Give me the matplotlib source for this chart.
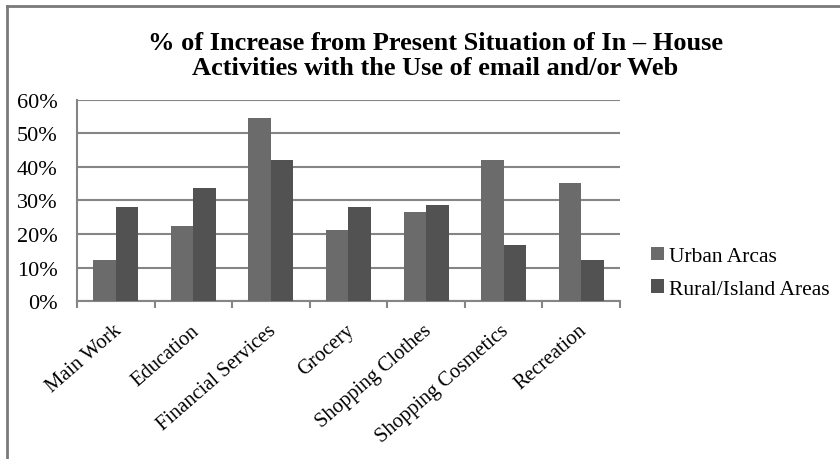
import matplotlib
matplotlib.use('Agg')
import matplotlib.pyplot as plt
import numpy as np
from matplotlib.lines import Line2D

plt.rcParams['font.family'] = ['Liberation Serif', 'DejaVu Serif']

categories = ['Main Work', 'Education', 'Financial Services', 'Grocery',
              'Shopping Clothes', 'Shopping Cosmetics', 'Recreation']
urban = [12.4, 22.4, 54.5, 21.2, 26.7, 42.0, 35.3]
rural = [28.2, 33.6, 42.0, 28.0, 28.8, 16.8, 12.4]
series_names = ['Urban Arcas', 'Rural/Island Areas']
y_ticks = [0, 10, 20, 30, 40, 50, 60]

fig = plt.figure(figsize=(8.4, 4.6), dpi=100)
ax = fig.add_axes([0.0917, 0.343, 0.6463, 0.438])

x = np.arange(len(categories))
w = 0.29
ax.bar(x - w / 2, urban, w, color='#6b6b6b', label=series_names[0], zorder=3)
ax.bar(x + w / 2, rural, w, color='#525252', label=series_names[1], zorder=3)

ax.set_xlim(-0.5, len(categories) - 0.5)
ax.set_ylim(0, 60)
ax.set_yticks(y_ticks)
ax.set_yticklabels([f'{v}%' for v in y_ticks], fontsize=16)
ax.yaxis.grid(True, color='#858585', linewidth=1.5, zorder=0)
ax.tick_params(axis='y', length=0, pad=14)

# category ticks at the boundaries between groups
ax.set_xticks(np.arange(-0.5, len(categories)), minor=False)
ax.set_xticklabels([])
ax.tick_params(axis='x', which='major', length=5, width=1.5, color='#858585', direction='out')
ax.set_xticks(x - 0.04, minor=True)
ax.set_xticklabels(categories, minor=True, rotation=41, ha='right',
                   rotation_mode='anchor', fontsize=14.8)
ax.tick_params(axis='x', which='minor', length=0, pad=14)

for s in ['top', 'right']:
    ax.spines[s].set_visible(False)
ax.spines['left'].set_color('#858585')
ax.spines['left'].set_linewidth(1.5)
ax.spines['bottom'].set_color('#858585')
ax.spines['bottom'].set_linewidth(1.5)

fig.text(0.518, 0.878, '% of Increase from Present Situation of In \u2013 House\n'
         'Activities with the Use of email and/or Web',
         ha='center', va='center', fontsize=19, fontweight='bold', linespacing=1.1)

fig.legend(loc='center left', bbox_to_anchor=(0.752, 0.405), frameon=False,
           fontsize=15.5, handlelength=0.6, handleheight=0.6, handletextpad=0.25,
           labelspacing=0.6)

# chart border (top and left edges visible in the reference)
fig.add_artist(Line2D([0.008, 0.008], [0, 0.984], transform=fig.transFigure,
                      color='#7a7a7a', linewidth=2))
fig.add_artist(Line2D([0.008, 1.0], [0.984, 0.984], transform=fig.transFigure,
                      color='#7a7a7a', linewidth=2))

fig.savefig('out.png', dpi=100)
